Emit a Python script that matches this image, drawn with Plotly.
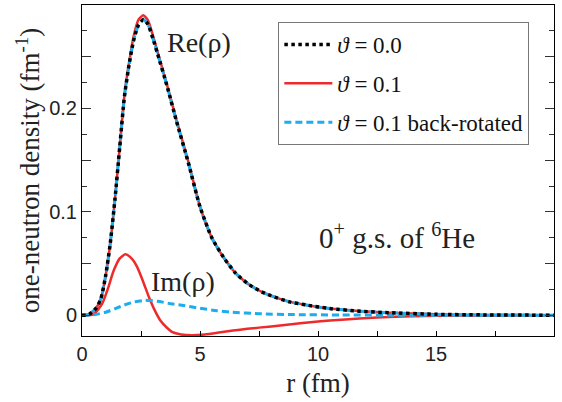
import plotly.graph_objects as go

# ---- data ----
r_re = [0, 0.3, 0.6, 0.8, 1.0, 1.2, 1.4, 1.6, 1.8, 2.0, 2.2, 2.4, 2.6, 2.8, 3.0, 3.2,
        3.6, 4.0, 4.5, 5.0, 5.5, 6.0, 6.5, 7.0, 7.5, 8.0, 8.8, 9.5, 10.5, 11.8, 13, 15, 17, 20]
re_theta0 = [0, 0.001, 0.007, 0.016, 0.038, 0.070, 0.113, 0.163, 0.212, 0.243, 0.267,
             0.281, 0.286, 0.281, 0.268, 0.253, 0.222, 0.188, 0.148, 0.105, 0.075, 0.056,
             0.041, 0.031, 0.024, 0.019, 0.013, 0.010, 0.0065, 0.004, 0.0025, 0.001, 0.0004, 0.0001]
re_theta01 = [0, 0.001, 0.007, 0.016, 0.038, 0.070, 0.113, 0.163, 0.213, 0.245, 0.271,
              0.286, 0.290, 0.285, 0.271, 0.255, 0.223, 0.189, 0.149, 0.105, 0.075, 0.056,
              0.041, 0.031, 0.024, 0.019, 0.013, 0.010, 0.0065, 0.004, 0.0025, 0.001, 0.0004, 0.0001]
re_back = re_theta0

r_im = [0, 0.3, 0.5, 0.85, 1.1, 1.34, 1.6, 1.84, 2.1, 2.33, 2.6, 2.83, 3.1, 3.32, 3.6,
        3.81, 4.2, 4.66, 5.2, 5.8, 6.4, 7.0, 7.5, 8.5, 10, 11, 12.5, 14, 16, 20]
im_theta01 = [0, 0, 0.001, 0.011, 0.026, 0.043, 0.055, 0.059, 0.055, 0.047, 0.032, 0.018,
              0.004, -0.005, -0.012, -0.016, -0.0185, -0.0192, -0.0185, -0.0167, -0.0147,
              -0.0131, -0.0119, -0.0096, -0.0060, -0.0042, -0.0021, -0.0009, -0.0003, 0]

r_im_back = [0, 0.5, 1.0, 1.41, 1.8, 2.2, 2.68, 3.2, 3.7, 4.24, 5.0, 5.7, 6.36, 7.5, 9, 11, 14, 20]
im_back = [0, 0.0005, 0.003, 0.0065, 0.010, 0.0128, 0.0145, 0.0135, 0.0115, 0.0097,
           0.0068, 0.0045, 0.003, 0.0015, 0.0007, 0.0003, 0.0001, 0]

x_tickvals = [0, 5, 10, 15]
x_ticktext = ["0", "5", "10", "15"]
y_tick0, y_dtick, y_labelstep = 0, 0.05, 2   # labels 0, 0.1, 0.2

RED = "#EE2A2A"
BLUE = "#1DACEE"
SERIF = "Liberation Serif"
SANS = "Liberation Sans"

fig = go.Figure()
# red (theta = 0.1)
fig.add_trace(go.Scatter(x=r_re, y=re_theta01, mode="lines", name="<i>ϑ</i> = 0.1",
                         legendgroup="b", legendrank=2,
                         line=dict(color=RED, width=2.5, shape="spline", smoothing=0.6)))
fig.add_trace(go.Scatter(x=r_im, y=im_theta01, mode="lines", showlegend=False,
                         legendgroup="b",
                         line=dict(color=RED, width=2.5, shape="spline", smoothing=0.6)))
# blue (back-rotated)
fig.add_trace(go.Scatter(x=r_re, y=re_back, mode="lines", name="<i>ϑ</i> = 0.1 back-rotated",
                         legendgroup="c", legendrank=3,
                         line=dict(color=BLUE, width=3, dash="7px,4px", shape="spline", smoothing=0.6)))
fig.add_trace(go.Scatter(x=r_im_back, y=im_back, mode="lines", showlegend=False,
                         legendgroup="c",
                         line=dict(color=BLUE, width=3, dash="7px,4px", shape="spline", smoothing=0.6)))
# black (theta = 0)
fig.add_trace(go.Scatter(x=r_re, y=re_theta0, mode="lines", name="<i>ϑ</i> = 0.0",
                         legendgroup="a", legendrank=1,
                         line=dict(color="black", width=3.5, dash="dot", shape="spline", smoothing=0.6)))

fig.add_annotation(x=4.96, y=0.264, xref="x", yref="y", text="Re(ρ)", showarrow=False,
                   font=dict(family=SERIF, size=28, color="#222"))
fig.add_annotation(x=4.27, y=0.033, xref="x", yref="y", text="Im(ρ)", showarrow=False,
                   font=dict(family=SERIF, size=28, color="#222"))
fig.add_annotation(x=13.35, y=0.077, xref="x", yref="y",
                   text="0<sup>+</sup> g.s. of <sup>6</sup>He", showarrow=False,
                   font=dict(family=SERIF, size=29, color="#222"))

fig.update_layout(
    width=562, height=402,
    margin=dict(l=82, r=8, t=5, b=66, autoexpand=False),
    paper_bgcolor="white", plot_bgcolor="white",
    font=dict(family=SERIF, size=20, color="#222"),
    legend=dict(x=0.416, y=0.9486, xanchor="left", yanchor="top",
                bgcolor="white", bordercolor="#777", borderwidth=1,
                font=dict(family=SERIF, size=23, color="#111"),
                itemwidth=48, tracegroupgap=6),
)
fig.update_xaxes(range=[0, 20], tickmode="array", tickvals=x_tickvals, ticktext=x_ticktext,
                 automargin=False,
                 ticks="inside", ticklen=5, tickwidth=1, tickcolor="black",
                 minor=dict(dtick=2.5, tick0=0, ticks="inside", ticklen=5, tickcolor="black"),
                 showline=True, linecolor="black", linewidth=1, mirror=True,
                 showgrid=False, zeroline=False,
                 tickfont=dict(family=SANS, size=20, color="#222"),
                 title_text="r (fm)", title_font=dict(family=SERIF, size=27, color="#222"),
                 title_standoff=9)
fig.update_yaxes(range=[-0.02, 0.3], tickmode="linear", tick0=y_tick0, dtick=y_dtick,
                 ticklabelstep=y_labelstep,
                 automargin=False,
                 ticks="inside", ticklen=9, tickwidth=1, tickcolor="#333",
                 minor=dict(dtick=0.025, tick0=0, ticks="inside", ticklen=5, tickcolor="#333"),
                 showline=True, linecolor="black", linewidth=1, mirror="ticks",
                 showgrid=False, zeroline=False,
                 tickfont=dict(family=SANS, size=20, color="#222"),
                 title_text="one-neutron density (fm<sup>-1</sup>)",
                 title_font=dict(family=SERIF, size=27, color="#222"),
                 title_standoff=1)

fig.write_html("out.html", config={"displayModeBar": False},
               post_script="document.body.style.margin='0';document.body.style.overflow='hidden';")
